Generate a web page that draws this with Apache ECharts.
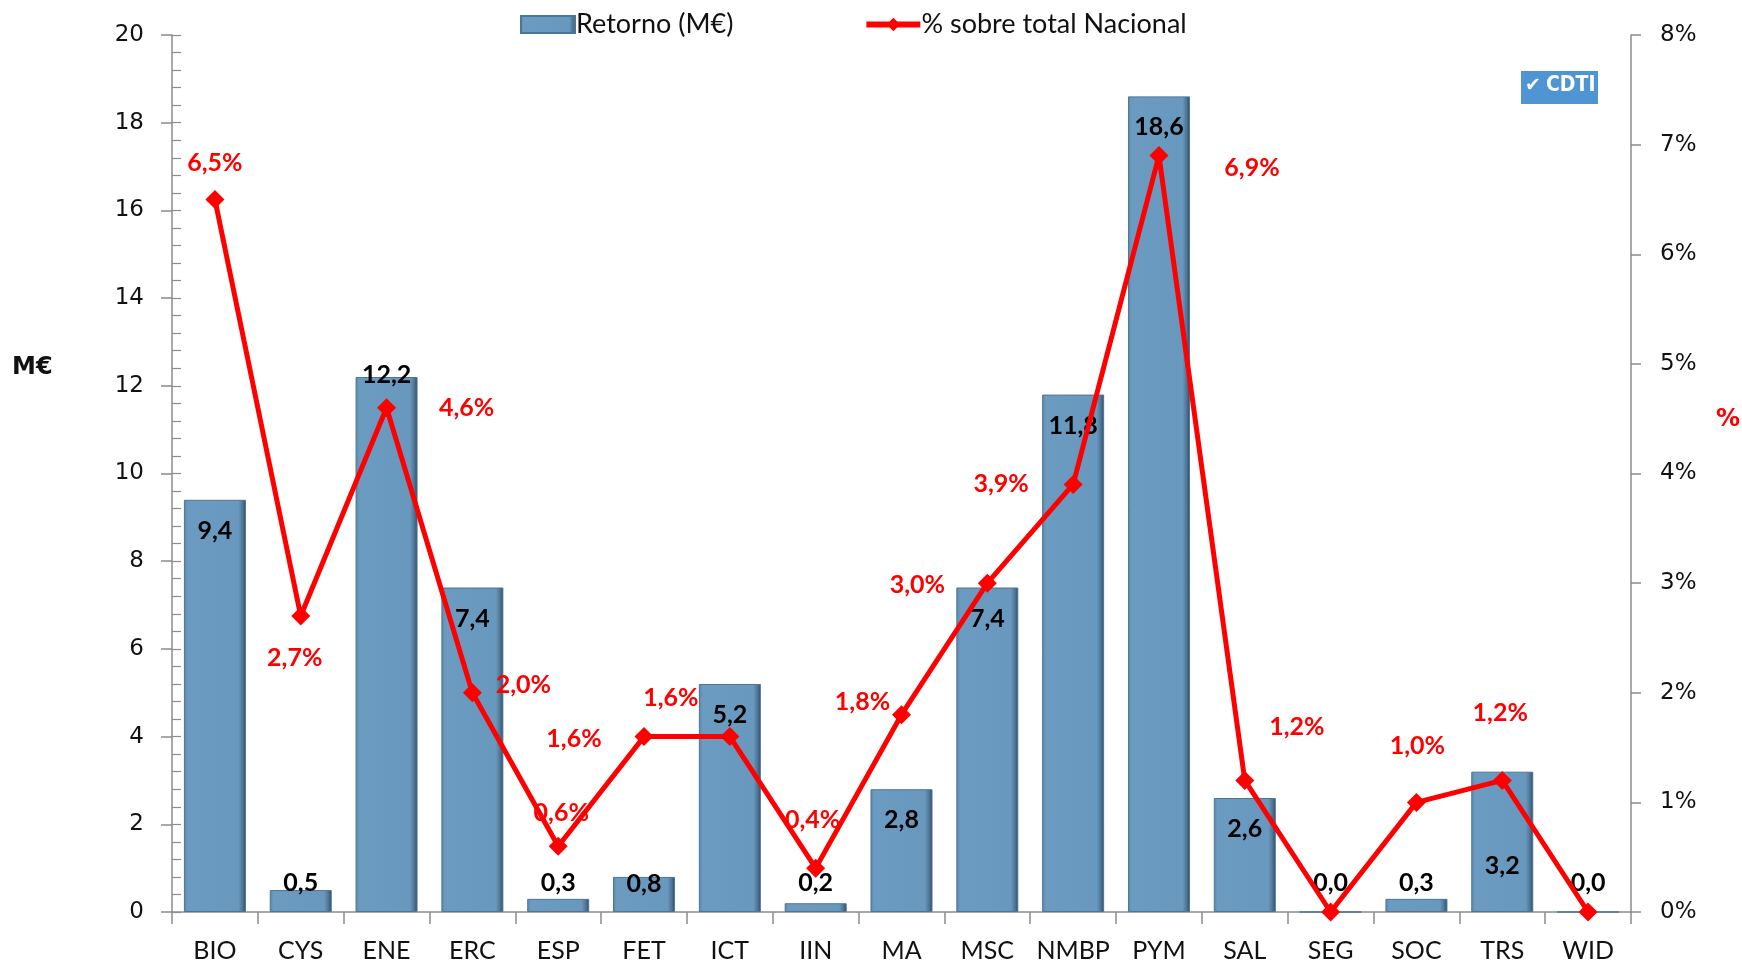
<!DOCTYPE html>
<html><head><meta charset="utf-8">
<script src="https://cdn.jsdelivr.net/npm/echarts@6/dist/echarts.min.js"></script>
<style>html,body{margin:0;padding:0;background:#fff}#c{width:1742px;height:963px}</style>
</head><body><div id="c"></div>
<script>
const categories = ['BIO','CYS','ENE','ERC','ESP','FET','ICT','IIN','MA','MSC','NMBP','PYM','SAL','SEG','SOC','TRS','WID'];
const retorno = [9.4,0.5,12.2,7.4,0.3,0.8,5.2,0.2,2.8,7.4,11.8,18.6,2.6,0.0,0.3,3.2,0.0];
const pctNacional = [6.5,2.7,4.6,2.0,0.6,1.6,1.6,0.4,1.8,3.0,3.9,6.9,1.2,0.0,1.0,1.2,0.0];
const leftTicks = [0,2,4,6,8,10,12,14,16,18,20];
const rightTicks = [0,1,2,3,4,5,6,7,8];

// label placement (style only)
const barLabelDy = [31,-7,-2,31,-16,7,31,-20,31,31,31,31,31,-29,-16,94,-29];
const pctLabelOff = [[0,-37],[-6,42],[80,0],[51,-8],[3,-33],[-70,2],[-59,-39],[-3,-48],[-39,-13],[-70,2],[-72,-1],[93,12],[52,-54],null,[1,-56],[-2,-68],null];

const fmt = v => v.toFixed(1).replace('.', ',');
const LBL = 'Lato, "Open Sans", sans-serif';
const TICK = '"DejaVu Sans", sans-serif';

const barData = retorno.map((v,i)=>({value:v,label:{offset:[0,barLabelDy[i]-13]}}));
const lineData = pctNacional.map((v,i)=>{
  const o = pctLabelOff[i];
  return o ? {value:v,label:{show:true,offset:o}} : {value:v,label:{show:false}};
});

const chart = echarts.init(document.getElementById('c'));
chart.setOption({
  animation:false,
  backgroundColor:'#fff',
  grid:{left:172,right:111,top:35,bottom:51,containLabel:false,outerBoundsMode:'none'},
  legend:{
    left:515, top:6, itemGap:130, itemWidth:54, itemHeight:17,
    textStyle:{fontFamily:LBL,fontSize:27,color:'#111',padding:[0,0,0,-4]},
    data:[{name:'Retorno (M€)',icon:'rect'},
          {name:'% sobre total Nacional',lineStyle:{width:6,color:'#ff0000'},itemStyle:{color:'#ff0000'}}]
  },
  xAxis:{
    type:'category', data:categories, boundaryGap:true,
    axisLine:{lineStyle:{color:'#8c8c8c',width:1.5}},
    axisTick:{show:true,length:12,lineStyle:{color:'#8c8c8c',width:1.5}},
    axisLabel:{fontFamily:LBL,fontSize:25,color:'#111',margin:26,interval:0}
  },
  yAxis:[
    {type:'value',min:0,max:20,interval:2,position:'left',
     axisLine:{show:true,lineStyle:{color:'#8c8c8c',width:1.5}},
     axisTick:{show:true,length:11,lineStyle:{color:'#8c8c8c',width:1.5}},
     axisLabel:{fontFamily:TICK,fontSize:23,color:'#111',margin:28,
       formatter:v=>leftTicks.includes(v)?String(v):''},
     splitLine:{show:false}},
    {type:'value',min:0,max:8,interval:1,position:'right',
     axisLine:{show:true,lineStyle:{color:'#8c8c8c',width:1.5}},
     axisTick:{show:true,length:10,lineStyle:{color:'#8c8c8c',width:1.5}},
     axisLabel:{fontFamily:TICK,fontSize:23,color:'#111',margin:29,
       formatter:v=>rightTicks.includes(v)?v+'%':''},
     splitLine:{show:false}},
    {type:'value',min:0,max:20,interval:0.4,position:'left',
     axisLine:{show:false},axisLabel:{show:false},splitLine:{show:false},
     axisTick:{show:true,inside:true,length:9,lineStyle:{color:'#8c8c8c',width:1.2}}}
  ],
  series:[
    {name:'Retorno (M€)',type:'bar',yAxisIndex:0,barWidth:62,data:barData,
     itemStyle:{
       color:new echarts.graphic.LinearGradient(0,0,1,0,[
         {offset:0,color:'#5a86aa'},{offset:0.06,color:'#6b9bc1'},
         {offset:0.88,color:'#6898bd'},{offset:0.95,color:'#4d7394'},{offset:1,color:'#2e475c'}]),
       borderColor:'#4f7595',borderWidth:1
     },
     label:{show:true,position:'insideTop',distance:0,formatter:p=>fmt(p.value),
       fontFamily:LBL,fontWeight:'bold',fontSize:25,lineHeight:26,color:'#000'},
     z:2},
    {name:'% sobre total Nacional',type:'line',yAxisIndex:1,data:lineData,
     lineStyle:{color:'#ff0000',width:5},itemStyle:{color:'#ff0000'},
     symbol:'diamond',symbolSize:19,
     label:{position:'inside',formatter:p=>fmt(p.value)+'%',
       fontFamily:LBL,fontWeight:'bold',fontSize:25,color:'#ff0000'},
     z:5}
  ],
  graphic:[
    {type:'text',left:12,top:356,style:{text:'M€',fill:'#111',font:'bold 24px "DejaVu Sans",sans-serif'}},
    {type:'text',left:1716,top:408,style:{text:'%',fill:'#ff0000',font:'bold 24px "DejaVu Sans",sans-serif'}},
    {type:'rect',left:1521,top:71,shape:{width:77,height:33},style:{fill:'#4f95d3'},z:10},
    {type:'text',left:1546,top:75,style:{text:'CDTI',fill:'#fff',font:'bold 21px "DejaVu Sans Condensed","DejaVu Sans",sans-serif'},z:11},
    {type:'text',left:1525,top:77,style:{text:'✔',fill:'#fff',font:'bold 19px "DejaVu Sans",sans-serif'},z:11}
  ]
});
</script></body></html>
